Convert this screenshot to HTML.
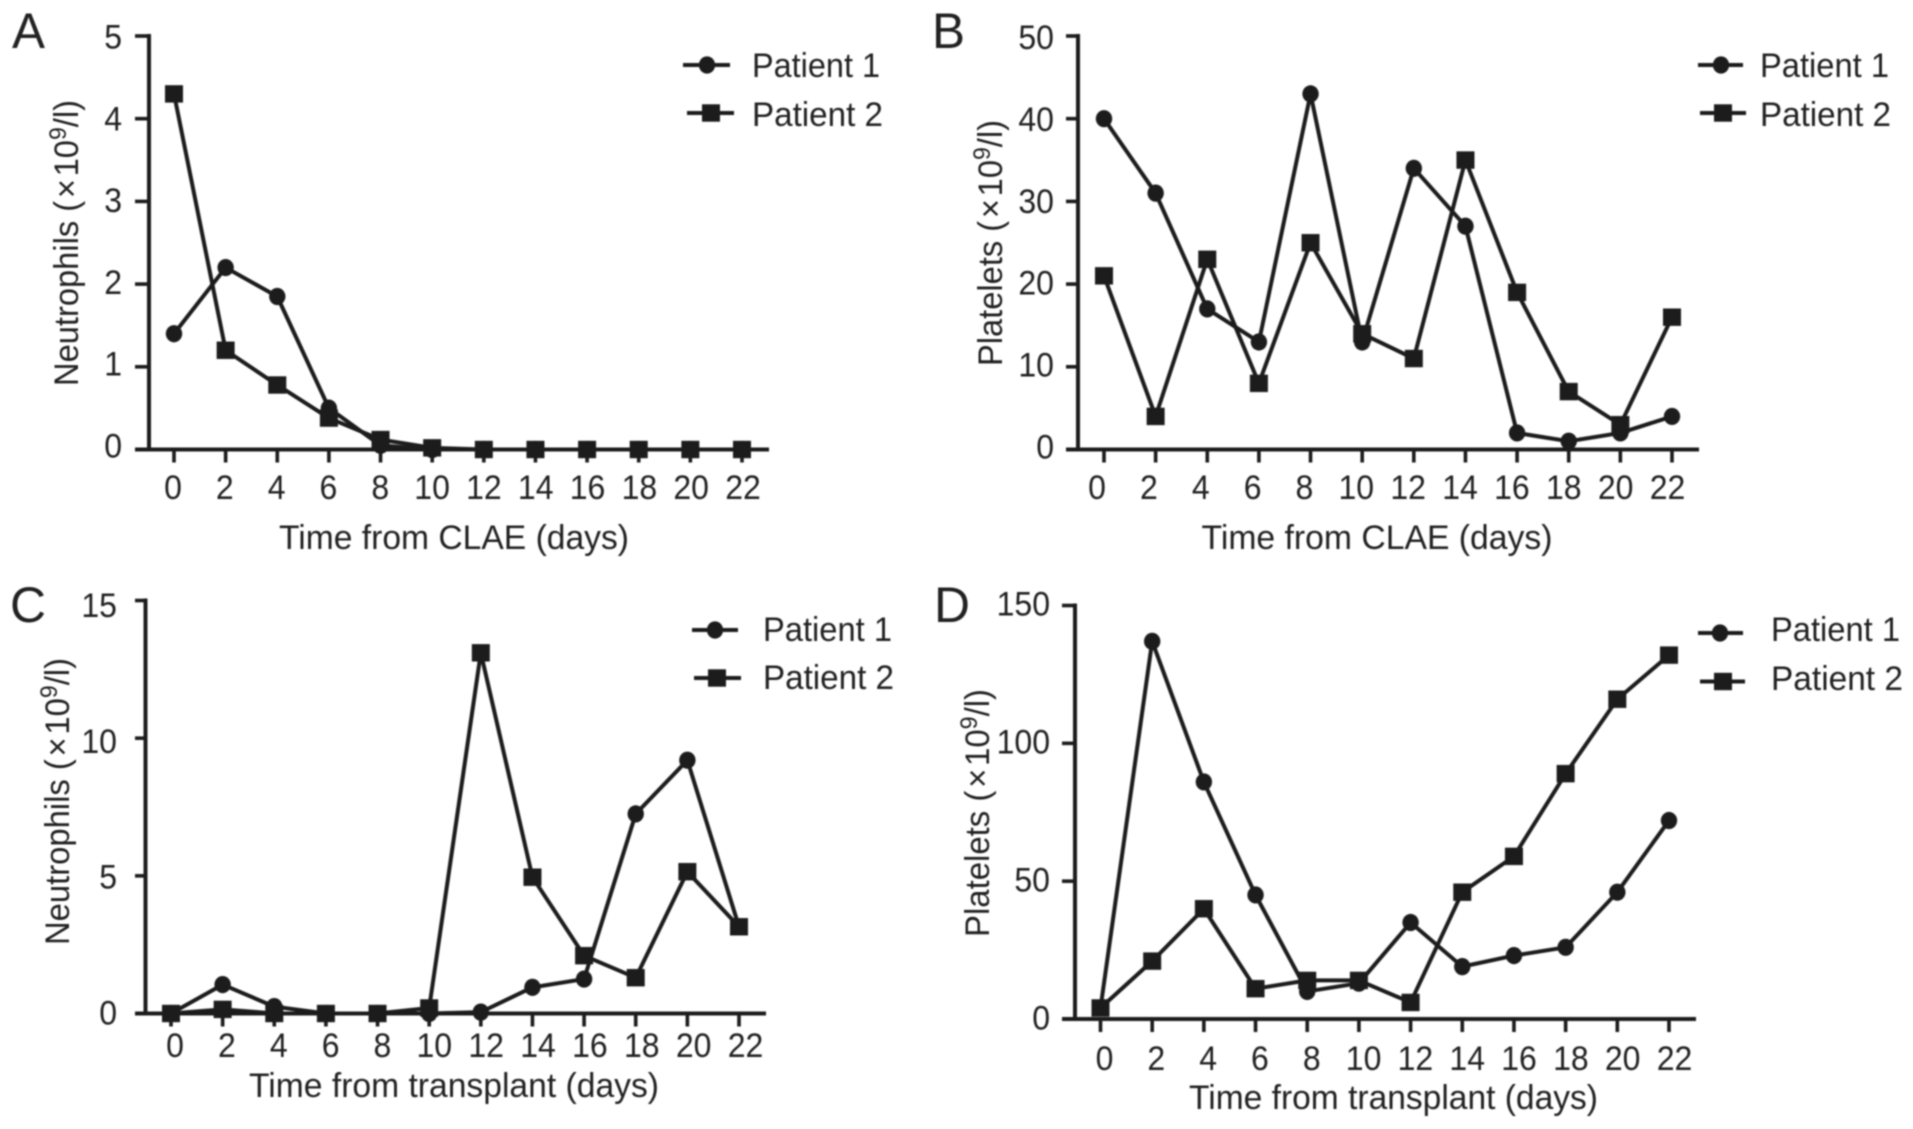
<!DOCTYPE html>
<html lang="en">
<head>
<meta charset="utf-8">
<title>Neutrophil and platelet counts for two patients</title>
<style>
html,body{margin:0;padding:0;background:#fff;}
svg{display:block;}
text{font-family:"Liberation Sans",sans-serif;fill:#222;}
</style>
</head>
<body>
<svg id="figure" xmlns="http://www.w3.org/2000/svg" width="1913" height="1129" viewBox="0 0 1913 1129">
<defs><filter id="soften" x="-2%" y="-2%" width="104%" height="104%"><feGaussianBlur stdDeviation="0.75"/></filter></defs>
<rect width="1913" height="1129" fill="#fff"/>
<g filter="url(#soften)">

<g id="panel-a">
  <text x="12" y="48" font-size="50" textLength="33" lengthAdjust="spacingAndGlyphs">A</text>
  <g id="plot-a"></g>
  <text transform="translate(78,386) rotate(-90)" font-size="34" textLength="286" lengthAdjust="spacingAndGlyphs">Neutrophils (&#8202;×&#8202;10<tspan font-size="24" dy="-12">9</tspan><tspan dy="12">/l)</tspan></text>
  <text x="454" y="549" font-size="34" text-anchor="middle" textLength="350" lengthAdjust="spacingAndGlyphs">Time from CLAE (days)</text>
  <text x="752" y="77" font-size="34" textLength="128" lengthAdjust="spacingAndGlyphs">Patient 1</text>
  <text x="752" y="126" font-size="34" textLength="131" lengthAdjust="spacingAndGlyphs">Patient 2</text>
</g>

<g id="panel-b">
  <text x="932" y="48" font-size="50" textLength="33" lengthAdjust="spacingAndGlyphs">B</text>
  <g id="plot-b"></g>
  <text transform="translate(1002,366) rotate(-90)" font-size="34" textLength="246" lengthAdjust="spacingAndGlyphs">Platelets (&#8202;×&#8202;10<tspan font-size="24" dy="-12">9</tspan><tspan dy="12">/l)</tspan></text>
  <text x="1377" y="549" font-size="34" text-anchor="middle" textLength="351" lengthAdjust="spacingAndGlyphs">Time from CLAE (days)</text>
  <text x="1760" y="77" font-size="34" textLength="129" lengthAdjust="spacingAndGlyphs">Patient 1</text>
  <text x="1760" y="126" font-size="34" textLength="131" lengthAdjust="spacingAndGlyphs">Patient 2</text>
</g>

<g id="panel-c">
  <text x="10" y="622" font-size="50" textLength="36" lengthAdjust="spacingAndGlyphs">C</text>
  <g id="plot-c"></g>
  <text transform="translate(69,945) rotate(-90)" font-size="34" textLength="287" lengthAdjust="spacingAndGlyphs">Neutrophils (&#8202;×&#8202;10<tspan font-size="24" dy="-12">9</tspan><tspan dy="12">/l)</tspan></text>
  <text x="454" y="1097" font-size="34" text-anchor="middle" textLength="410" lengthAdjust="spacingAndGlyphs">Time from transplant (days)</text>
  <text x="763" y="641" font-size="34" textLength="129" lengthAdjust="spacingAndGlyphs">Patient 1</text>
  <text x="763" y="689" font-size="34" textLength="131" lengthAdjust="spacingAndGlyphs">Patient 2</text>
</g>

<g id="panel-d">
  <text x="934" y="622" font-size="50" textLength="36" lengthAdjust="spacingAndGlyphs">D</text>
  <g id="plot-d"></g>
  <text transform="translate(989,937) rotate(-90)" font-size="34" textLength="248" lengthAdjust="spacingAndGlyphs">Platelets (&#8202;×&#8202;10<tspan font-size="24" dy="-12">9</tspan><tspan dy="12">/l)</tspan></text>
  <text x="1393.5" y="1109" font-size="34" text-anchor="middle" textLength="409" lengthAdjust="spacingAndGlyphs">Time from transplant (days)</text>
  <text x="1771" y="641" font-size="34" textLength="129" lengthAdjust="spacingAndGlyphs">Patient 1</text>
  <text x="1771" y="690" font-size="34" textLength="132" lengthAdjust="spacingAndGlyphs">Patient 2</text>
</g>

</g>
</svg>
<script>
const days = [0, 2, 4, 6, 8, 10, 12, 14, 16, 18, 20, 22];

const ticksA = [0, 1, 2, 3, 4, 5];
const ticksB = [0, 10, 20, 30, 40, 50];
const ticksC = [0, 5, 10, 15];
const ticksD = [0, 50, 100, 150];

const patient1A = [1.4, 2.2, 1.85, 0.5, 0.05, 0, 0, 0, 0, 0, 0, 0];
const patient2A = [4.3, 1.2, 0.78, 0.38, 0.12, 0.02, 0, 0, 0, 0, 0, 0];
const patient1B = [40, 31, 17, 13, 43, 13, 34, 27, 2, 1, 2, 4];
const patient2B = [21, 4, 23, 8, 25, 14, 11, 35, 19, 7, 3, 16];
const patient1C = [0, 1.05, 0.25, 0, 0, 0, 0.05, 0.95, 1.25, 7.25, 9.2, 3.15];
const patient2C = [0, 0.15, 0, 0, 0, 0.2, 13.1, 4.95, 2.1, 1.3, 5.15, 3.15];
const patient1D = [4, 137, 86, 45, 10, 13, 35, 19, 23, 26, 46, 72];
const patient2D = [4, 21, 40, 11, 14, 14, 6, 46, 59, 89, 116, 132];

const SVG_NS = 'http://www.w3.org/2000/svg';
const INK = '#1a1a1a';

function make(parent, tag, attrs) {
  const el = document.createElementNS(SVG_NS, tag);
  for (const k in attrs) el.setAttribute(k, attrs[k]);
  parent.appendChild(el);
  return el;
}

function drawMarker(parent, kind, cx, cy, name) {
  let el;
  if (kind === 'circle') {
    el = make(parent, 'ellipse', { cx: cx, cy: cy, rx: 8.2, ry: 8.6, fill: INK });
  } else {
    el = make(parent, 'rect', { x: cx - 9, y: cy - 8.7, width: 18, height: 17.4, fill: INK });
  }
  
  
}

function drawSeries(parent, values, kind, label, xScale, yScale) {
  const g = make(parent, 'g', {});
  
  
  const pts = values.map((v, i) => xScale(days[i]) + ',' + yScale(v)).join(' ');
  const line = make(g, 'polyline', { points: pts, fill: 'none', stroke: INK, 'stroke-width': 4, 'stroke-linejoin': 'round' });
  
  
  values.forEach((v, i) => {
    drawMarker(g, kind, xScale(days[i]), yScale(v), label + '-point-day-' + days[i]);
  });
}

function drawLegendKey(parent, kind, x1, x2, mx, y, name) {
  const g = make(parent, 'g', {});
  
  
  const line = make(g, 'line', { x1: x1, x2: x2, y1: y, y2: y, stroke: INK, 'stroke-width': 4 });
  
  
  drawMarker(g, kind, mx, y, name + '-marker');
}

function drawPanel(cfg) {
  const root = document.getElementById(cfg.id);
  const firstDay = days[0];
  const lastDay = days[days.length - 1];
  const minTick = cfg.yTicks[0];
  const maxTick = cfg.yTicks[cfg.yTicks.length - 1];
  const xFrac = d => (d - firstDay) / (lastDay - firstDay);
  const yFrac = v => (v - minTick) / (maxTick - minTick);
  const xScale = d => cfg.x0 + xFrac(d) * (cfg.x22 - cfg.x0);
  const yScale = v => cfg.y0 + yFrac(v) * (cfg.yTop - cfg.y0);

  const yAxis = make(root, 'line', { x1: cfg.axisX, x2: cfg.axisX, y1: cfg.yTop - 2, y2: cfg.y0 + 2, stroke: INK, 'stroke-width': 4 });
  
  
  const xAxis = make(root, 'line', { x1: cfg.tickLeft, x2: cfg.axisEnd, y1: cfg.y0, y2: cfg.y0, stroke: INK, 'stroke-width': 4 });
  
  

  cfg.yTicks.forEach(t => {
    const y = yScale(t);
    const tick = make(root, 'line', { x1: cfg.tickLeft, x2: cfg.axisX, y1: y, y2: y, stroke: INK, 'stroke-width': 3.6 });
    
    
    const baseline = cfg.yLabelBottom + yFrac(t) * (cfg.yLabelTop - cfg.yLabelBottom);
    const label = make(root, 'text', { x: cfg.yLabelRight, y: baseline, 'font-size': 34, 'text-anchor': 'end', textLength: String(t).length * 17.8, lengthAdjust: 'spacingAndGlyphs' });
    
    
    label.textContent = t;
  });

  days.forEach(d => {
    const x = xScale(d);
    const tick = make(root, 'line', { x1: x, x2: x, y1: cfg.y0, y2: cfg.y0 + 13, stroke: INK, 'stroke-width': 3.6 });
    
    
    const shift = cfg.xShiftStart + xFrac(d) * (cfg.xShiftEnd - cfg.xShiftStart);
    const label = make(root, 'text', { x: x + shift, y: cfg.xLabelBase, 'font-size': 34, 'text-anchor': 'middle', textLength: String(d).length * 17.8, lengthAdjust: 'spacingAndGlyphs' });
    
    
    label.textContent = d;
  });

  drawSeries(root, cfg.p1, 'circle', 'patient-1', xScale, yScale);
  drawSeries(root, cfg.p2, 'square', 'patient-2', xScale, yScale);

  drawLegendKey(root, 'circle', cfg.leg1[0], cfg.leg1[1], cfg.leg1[2], cfg.leg1[3], 'legend-key-patient-1');
  drawLegendKey(root, 'square', cfg.leg2[0], cfg.leg2[1], cfg.leg2[2], cfg.leg2[3], 'legend-key-patient-2');
}

drawPanel({ id: 'plot-a', yTicks: ticksA, p1: patient1A, p2: patient2A,
  axisX: 149, tickLeft: 135, axisEnd: 769, x0: 174, x22: 742, yTop: 36, y0: 449.5,
  yLabelRight: 122, yLabelBottom: 457.5, yLabelTop: 48.5,
  xShiftStart: -1, xShiftEnd: 1, xLabelBase: 499,
  leg1: [683, 730, 707, 65], leg2: [687, 734, 711, 113] });

drawPanel({ id: 'plot-b', yTicks: ticksB, p1: patient1B, p2: patient2B,
  axisX: 1078, tickLeft: 1066, axisEnd: 1699, x0: 1104, x22: 1672, yTop: 36, y0: 449.5,
  yLabelRight: 1054, yLabelBottom: 458.5, yLabelTop: 49,
  xShiftStart: -7, xShiftEnd: -4.5, xLabelBase: 499,
  leg1: [1698, 1743, 1721, 65], leg2: [1700, 1746, 1723, 113] });

drawPanel({ id: 'plot-c', yTicks: ticksC, p1: patient1C, p2: patient2C,
  axisX: 145.5, tickLeft: 135, axisEnd: 766, x0: 171, x22: 739, yTop: 600.5, y0: 1013.5,
  yLabelRight: 117, yLabelBottom: 1024.5, yLabelTop: 617,
  xShiftStart: 4, xShiftEnd: 6.5, xLabelBase: 1057,
  leg1: [692, 738, 715, 630], leg2: [694, 741, 717, 678] });

drawPanel({ id: 'plot-d', yTicks: ticksD, p1: patient1D, p2: patient2D,
  axisX: 1075, tickLeft: 1062, axisEnd: 1696, x0: 1100.5, x22: 1669, yTop: 605.5, y0: 1019,
  yLabelRight: 1050, yLabelBottom: 1029.5, yLabelTop: 615.5,
  xShiftStart: 4, xShiftEnd: 5.5, xLabelBase: 1070,
  leg1: [1698, 1743, 1720, 633], leg2: [1700, 1745, 1723, 681.5] });
</script>
</body>
</html>
